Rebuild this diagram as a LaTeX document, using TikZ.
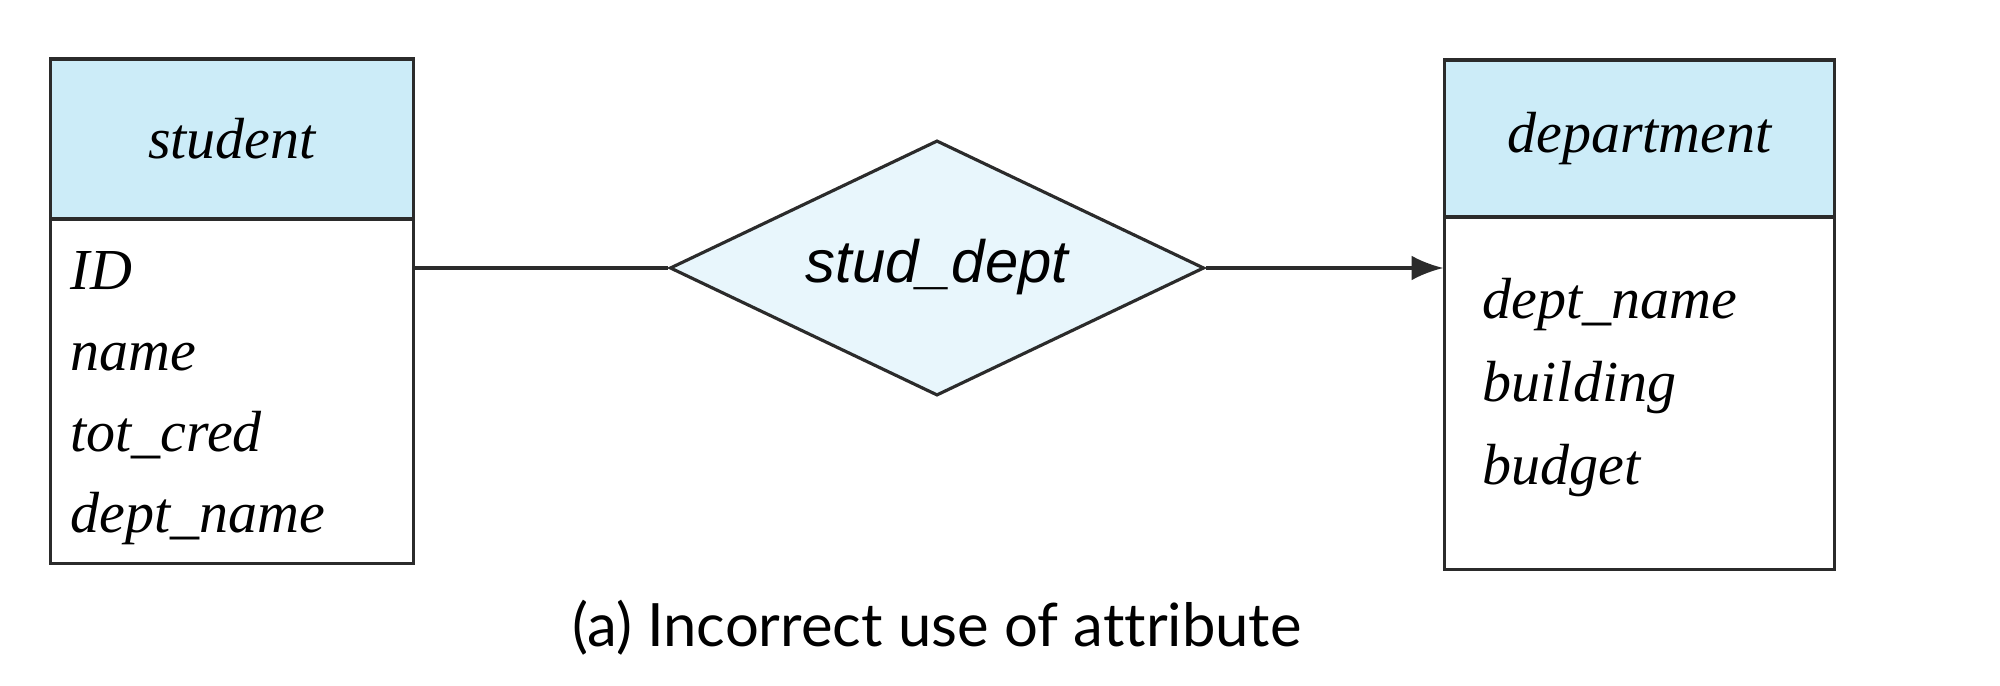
\documentclass[tikz,border=0pt]{standalone}
\usepackage{fontspec}
\setmainfont{Liberation Serif}
\setsansfont{Liberation Sans}
\newfontfamily\capfont[Ligatures=NoCommon]{Lato}
\usetikzlibrary{shapes.geometric,arrows.meta}
\definecolor{headblue}{HTML}{CCECF8}
\definecolor{relblue}{HTML}{E8F6FC}
\definecolor{inkgray}{HTML}{2B2B2B}

\begin{document}
\begin{tikzpicture}[x=0.01cm, y=-0.01cm, >={Latex[length=9pt,width=7pt]},
          ent/.style={draw=inkgray, line width=0.9pt, inner sep=0},
          head/.style={ent, fill=headblue, font=\fontsize{16.5}{20}\selectfont\itshape},
          attr/.style={anchor=base west, inner sep=0, font=\fontsize{16.5}{20}\selectfont\itshape},
          rel/.style={diamond, aspect=2.1, draw=inkgray, line width=0.9pt, fill=relblue, inner sep=0,
                      minimum width=5.34cm, minimum height=2.55cm, font=\sffamily\fontsize{17}{20}\selectfont\itshape},
          arr/.style={draw=inkgray, line width=0.9pt}]
        \useasboundingbox (0,0) rectangle (2000,686);
        % entity sets
        \node[head, minimum width=3.62cm, minimum height=1.6cm] (shead) at (232,139) {student};
        \node[ent, minimum width=3.62cm, minimum height=3.44cm] (sbody) at (232,391) {};
        \node[head, minimum width=3.89cm, minimum height=1.57cm] (dhead) at (1639.5,138.5) {department};
        \node[ent, minimum width=3.89cm, minimum height=3.52cm] (dbody) at (1639.5,393) {};
        % attributes
        \node[attr] (sid) at (70,290) {ID};
        \node[attr] (sname) at (70,371) {name};
        \node[attr] (scred) at (70,452) {tot\_cred};
        \node[attr] (sdept) at (70,533) {dept\_name};
        \node[attr] (ddept) at (1482,319) {dept\_name};
        \node[attr] (dbuild) at (1482,402) {building};
        \node[attr] (dbudget) at (1482,485) {budget};
        % relationship set
        \node[rel] (studdept) at (937,268) {\raisebox{0.14cm}{stud\_dept}};
        \draw[arr] (sbody.east |- studdept.west) -- (studdept.west);
        \draw[arr, ->] (studdept.east) -- (studdept.east -| dbody.west);
        \node[font=\capfont\fontsize{17}{20}\selectfont] (cap) at (937,628) {(a) Incorrect use of attribute};
      \end{tikzpicture}
\end{document}
